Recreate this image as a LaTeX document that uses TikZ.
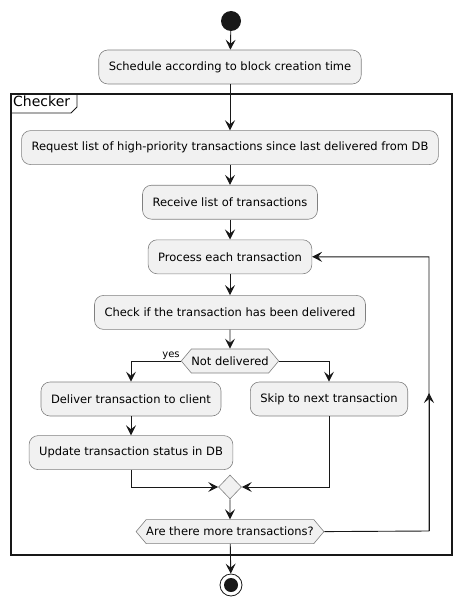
\documentclass[tikz,border=0pt]{standalone}
\usepackage{fontspec}
\setmainfont{DejaVu Sans}
\usetikzlibrary{positioning,shapes.geometric,shapes.symbols,arrows.meta}
\definecolor{actfill}{HTML}{F1F1F1}
\definecolor{actline}{HTML}{181818}
\definecolor{actborder}{HTML}{808080}

\tikzset{
  action/.style={draw=actborder, line width=0.6pt, fill=actfill, rounded corners=9pt,
    minimum height=34pt, inner xsep=10pt, font=\fontsize{11.5}{13}\selectfont},
  choice/.style={draw=actborder, line width=0.6pt, fill=actfill, signal, signal to=east and west,
    signal pointer angle=100, minimum height=24pt, inner xsep=0pt, inner ysep=0pt,
    font=\fontsize{11.5}{13}\selectfont},
  flow/.style={draw=actline, line width=0.9pt, -{Stealth[length=10pt,width=10pt,inset=4pt]}},
}

\begin{document}
\begin{tikzpicture}[x=1pt, y=-1pt]
  \useasboundingbox (0,0) rectangle (461,607);

  % frame of the group
  \draw[actline, line width=1.4pt] (11,94) rectangle (452,555);
  \node[anchor=north west, inner sep=2pt, font=\fontsize{14}{16}\selectfont] (checker) at (11,94) {Checker};
  \draw[actline, line width=0.9pt] (11,113) -- (71,113) -- (77,107) -- (77,94);

  \node[circle, fill=actline, minimum size=20pt, inner sep=0pt] (start) at (231,21) {};
  \node[action] (schedule) at (230,67) {Schedule according to block creation time};
  \node[action, below=46pt of schedule] (request) {Request list of high-priority transactions since last delivered from DB};
  \node[action, below=20pt of request] (receive) {Receive list of transactions};
  \node[action, below=20pt of receive] (process) {Process each transaction};
  \node[action, below=21pt of process] (check) {Check if the transaction has been delivered};
  \node[choice, below=19pt of check] (notdel) {Not delivered};
  \node[action] (deliver) at (131,399) {Deliver transaction to client};
  \node[action] (skip) at (329,399) {Skip to next transaction};
  \node[action, below=19pt of deliver] (update) {Update transaction status in DB};
  \node[diamond, draw=actborder, line width=0.6pt, fill=actfill, minimum width=23pt, minimum height=24pt, inner sep=0pt] (merge) at (230,487) {};
  \node[choice, below=20pt of merge] (more) {Are there more transactions?};
  \node[circle, draw=actline, line width=0.8pt, fill=white, minimum size=22pt, inner sep=0pt] (stop) at (231,585) {};
  \node[circle, fill=actline, minimum size=14pt, inner sep=0pt] (stopdot) at (stop) {};

  \node[anchor=south east, inner sep=1pt, font=\fontsize{10}{12}\selectfont] (yes) at (notdel.west) {yes};
  \coordinate (loop) at (429,531);

  \draw[flow] (start) -- (schedule);
  \draw[flow] (schedule) -- (request);
  \draw[flow] (request) -- (receive);
  \draw[flow] (receive) -- (process);
  \draw[flow] (process) -- (check);
  \draw[flow] (check) -- (notdel);
  \draw[flow] (notdel.west) -| (deliver.north);
  \draw[flow] (notdel.east) -| (skip.north);
  \draw[flow] (deliver) -- (update);
  \draw[flow] (update.south) |- (merge.west);
  \draw[flow] (skip.south) |- (merge.east);
  \draw[flow] (merge) -- (more);
  \draw[flow] (more) -- (stop);
  \draw[flow] (more.east) -- (loop) |- (process.east);
  \draw[flow] (loop) -- ++(0,-138);
\end{tikzpicture}
\end{document}
